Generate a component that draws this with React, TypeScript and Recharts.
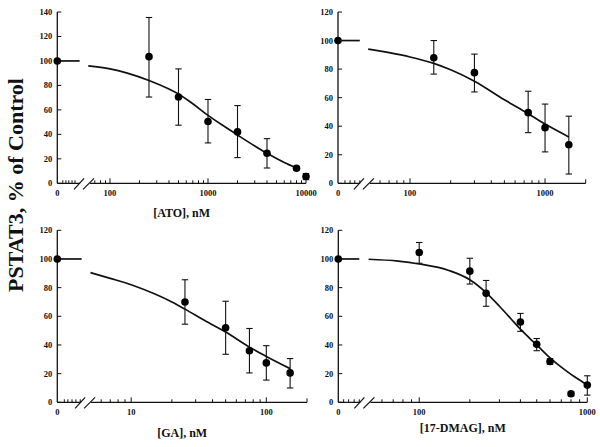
import React from "react";
import { ComposedChart, Line, Scatter, ErrorBar, XAxis, YAxis, ReferenceDot } from "recharts";

// ---- [ATO] panel (top left)
const atoConc = [0, 250, 500, 1000, 2000, 4000, 8000, 10000];
const atoMean = [100, 103.5, 70.5, 50.5, 42, 24.5, 12.3, 5.5];
const atoHigh = [100, 135.5, 93.5, 68.5, 63.5, 36.5, 13.8, 8];
const atoLow = [100, 70.5, 47.5, 33, 21, 12.5, 10.8, 3];
const atoFitConc = [60, 100, 150, 250, 400, 500, 700, 1000, 1500, 2000, 3000, 4000, 6000, 8000];
const atoFitPct = [96, 93.5, 90, 84, 77, 73, 65, 55.5, 46, 39.5, 30.5, 24.5, 17, 12.5];
const atoMajor = [100, 1000, 10000];
const atoMinor = [33, 35.5, 38, 41, 44, 70, 80, 90, 200, 300, 400, 500, 600, 700, 800, 900, 2000, 3000, 4000, 5000, 6000, 7000, 8000, 9000];

// ---- top right panel (no axis title)
const p2Conc = [0, 150, 300, 750, 1000, 1500];
const p2Mean = [100, 88, 77.5, 49.5, 39, 27];
const p2High = [100, 100, 90.5, 64.5, 55.5, 47];
const p2Low = [100, 76.5, 64, 35.5, 22, 6.5];
const p2FitConc = [49, 70, 100, 150, 200, 300, 500, 700, 1000, 1500];
const p2FitPct = [94, 91.5, 88.5, 84, 79.5, 71.5, 58.5, 50.5, 41.5, 32.5];
const p2Major = [100, 1000];
const p2Minor = [33, 36, 39, 42.5, 60, 70, 80, 90, 200, 300, 400, 500, 600, 700, 800, 900, 2000];

// ---- [GA] panel (bottom left)
const gaConc = [0, 25, 50, 75, 100, 150];
const gaMean = [100, 70, 52, 36, 27.5, 20.5];
const gaHigh = [100, 85.5, 70.5, 51.5, 39.5, 30.5];
const gaLow = [100, 54.5, 33.5, 20.5, 15.5, 10];
const gaFitConc = [5, 7, 10, 15, 20, 25, 35, 50, 75, 100, 150];
const gaFitPct = [90.5, 86.5, 82, 75.5, 70, 65, 57, 49, 38.5, 32, 23.5];
const gaMajor = [10, 100];
const gaMinor = [3.2, 3.4, 3.65, 3.9, 4.2, 6, 7, 8, 9, 20, 30, 40, 50, 60, 70, 80, 90, 200];

// ---- [17-DMAG] panel (bottom right)
const dmagConc = [0, 100, 200, 250, 400, 500, 600, 800, 1000];
const dmagMean = [100, 104.5, 91.5, 76, 56, 40.5, 28.5, 6, 12];
const dmagHigh = [100, 111.5, 100.5, 85, 62, 44.5, 30.5, 7.5, 18.5];
const dmagLow = [100, 97, 82.5, 67, 49.5, 36, 26.5, 4.5, 5];
const dmagFitConc = [50, 75, 100, 150, 200, 250, 300, 350, 400, 500, 600, 700, 800, 900, 1000];
const dmagFitPct = [99.8, 98.5, 96.5, 92, 85.5, 76.5, 67, 58.5, 51, 40, 31, 24.5, 19.5, 15.5, 12];
const dmagMajor = [100, 1000];
const dmagMinor = [35.5, 38, 41, 44, 60, 70, 80, 90, 200, 300, 400, 500, 600, 700, 800, 900];

const yTicks140 = [0, 20, 40, 60, 80, 100, 120, 140];
const yTicks120 = [0, 20, 40, 60, 80, 100, 120];

const FONT = '"Liberation Serif", "Times New Roman", serif';
const INK = "#111";

type PanelProps = {
  left: number;
  top: number;
  width: number;
  height: number;
  plot: [number, number, number, number]; // left, right, top, bottom (page px)
  conc: number[];
  mean: number[];
  high: number[];
  low: number[];
  fitConc: number[];
  fitPct: number[];
  zeroAt: number; // where dose 0 sits on the broken log axis
  ctrlEnd: number;
  breakAt: number;
  xMax: number;
  major: number[];
  minor: number[];
  yTicks: number[];
  xLabel?: string;
  xLabelOffset?: number;
};

function BreakMark({ cx, cy }: { cx: number; cy: number }) {
  return (
    <g>
      <rect x={cx - 4.5} y={cy - 2} width={10} height={4} fill="#fff" />
      <line x1={cx - 10.5} y1={cy + 6} x2={cx - 0.5} y2={cy - 5} stroke={INK} strokeWidth={1.2} />
      <line x1={cx - 1.5} y1={cy + 6} x2={cx + 9.5} y2={cy - 5} stroke={INK} strokeWidth={1.2} />
    </g>
  );
}

function Panel(p: PanelProps) {
  const [pl, pr, pt, pb] = p.plot;
  const pos = (c: number) => (c === 0 ? p.zeroAt : c);
  const points = p.conc.map((c, i) => ({
    x: pos(c),
    y: p.mean[i],
    err: [p.mean[i] - p.low[i], p.high[i] - p.mean[i]],
  }));
  const fit = p.fitConc.map((c, i) => ({ x: c, y: p.fitPct[i] }));
  const ctrl = [
    { x: p.zeroAt, y: 100 },
    { x: p.ctrlEnd, y: 100 },
  ];
  const xTicks = Array.from(new Set([p.zeroAt, ...p.minor, ...p.major, p.xMax])).sort((a, b) => a - b);
  const yMax = p.yTicks[p.yTicks.length - 1];

  const XTick = (props: any) => {
    const { x, y, payload } = props;
    const v = payload.value;
    const isZero = v === p.zeroAt;
    const isMajor = p.major.includes(v);
    const len = isZero ? 0 : isMajor ? 5 : v === p.xMax ? 4 : 3;
    const label = isZero ? "0" : isMajor ? String(v) : null;
    return (
      <g>
        {len > 0 && <line x1={x} x2={x} y1={y} y2={y - len} stroke={INK} strokeWidth={1} />}
        {label && (
          <text x={x} y={y + 12.5} textAnchor="middle" fontFamily={FONT} fontWeight="bold" fontSize={8.5} fill={INK}>
            {label}
          </text>
        )}
      </g>
    );
  };

  const YTick = (props: any) => {
    const { x, y, payload } = props;
    return (
      <g>
        <line x1={x} x2={x + 4} y1={y} y2={y} stroke={INK} strokeWidth={1} />
        <text x={x - 5} y={y + 3} textAnchor="end" fontFamily={FONT} fontWeight="bold" fontSize={8.5} fill={INK}>
          {payload.value}
        </text>
      </g>
    );
  };

  return (
    <div style={{ position: "absolute", left: p.left, top: p.top }}>
      <ComposedChart
        width={p.width}
        height={p.height}
        margin={{ top: pt - p.top, right: p.left + p.width - pr, bottom: 0, left: 0 }}
      >
        <XAxis
          dataKey="x"
          type="number"
          scale="log"
          domain={[p.zeroAt, p.xMax]}
          ticks={xTicks}
          interval={0}
          tick={XTick}
          tickLine={false}
          tickSize={0}
          tickMargin={0}
          height={p.top + p.height - pb}
          axisLine={{ stroke: INK, strokeWidth: 1.3 }}
          label={
            p.xLabel
              ? {
                  value: p.xLabel,
                  position: "insideBottom",
                  offset: p.xLabelOffset ?? 8,
                  fontFamily: FONT,
                  fontWeight: "bold",
                  fontSize: 12,
                  fill: INK,
                }
              : undefined
          }
        />
        <YAxis
          type="number"
          domain={[0, yMax]}
          ticks={p.yTicks}
          interval={0}
          tick={YTick}
          tickLine={false}
          tickSize={0}
          tickMargin={0}
          width={pl - p.left}
          axisLine={{ stroke: INK, strokeWidth: 1.3 }}
        />
        <ReferenceDot x={p.breakAt} y={0} r={0} shape={(d: any) => <BreakMark cx={d.cx} cy={d.cy} />} />
        <Line data={ctrl} dataKey="y" stroke={INK} strokeWidth={1.7} dot={false} isAnimationActive={false} />
        <Line data={fit} dataKey="y" type="monotone" stroke={INK} strokeWidth={1.7} dot={false} isAnimationActive={false} />
        <Scatter
          data={points}
          dataKey="y"
          isAnimationActive={false}
          shape={(d: any) => <circle cx={d.cx} cy={d.cy} r={3.8} fill="#000" />}
        >
          <ErrorBar dataKey="err" direction="y" width={3.2} stroke={INK} strokeWidth={1.1} isAnimationActive={false} />
        </Scatter>
      </ComposedChart>
    </div>
  );
}

export default function App() {
  return (
    <div style={{ position: "fixed", left: 0, top: 0, width: 600, height: 447, background: "#fff", overflow: "hidden" }}>
      <Panel
        left={0} top={0} width={330} height={225}
        plot={[57.3, 306, 12, 183.3]}
        conc={atoConc} mean={atoMean} high={atoHigh} low={atoLow}
        fitConc={atoFitConc} fitPct={atoFitPct}
        zeroAt={29} ctrlEnd={49} breakAt={55} xMax={10000}
        major={atoMajor} minor={atoMinor} yTicks={yTicks140}
        xLabel="[ATO], nM" xLabelOffset={8}
      />
      <Panel
        left={300} top={0} width={300} height={225}
        plot={[338, 585.7, 12, 183.3]}
        conc={p2Conc} mean={p2Mean} high={p2High} low={p2Low}
        fitConc={p2FitConc} fitPct={p2FitPct}
        zeroAt={29.3} ctrlEnd={42.5} breakAt={46} xMax={2000}
        major={p2Major} minor={p2Minor} yTicks={yTicks120}
      />
      <Panel
        left={0} top={225} width={330} height={222}
        plot={[57.3, 307, 230.3, 402.3]}
        conc={gaConc} mean={gaMean} high={gaHigh} low={gaLow}
        fitConc={gaFitConc} fitPct={gaFitPct}
        zeroAt={2.84} ctrlEnd={4.3} breakAt={4.6} xMax={200}
        major={gaMajor} minor={gaMinor} yTicks={yTicks120}
        xLabel="[GA], nM" xLabelOffset={10.5}
      />
      <Panel
        left={300} top={225} width={300} height={222}
        plot={[338.3, 587.3, 230.3, 402.3]}
        conc={dmagConc} mean={dmagMean} high={dmagHigh} low={dmagLow}
        fitConc={dmagFitConc} fitPct={dmagFitPct}
        zeroAt={33} ctrlEnd={44} breakAt={47.5} xMax={1000}
        major={dmagMajor} minor={dmagMinor} yTicks={yTicks120}
        xLabel="[17-DMAG], nM" xLabelOffset={15}
      />
      <svg width={40} height={447} style={{ position: "absolute", left: 0, top: 0 }}>
        <text
          transform="translate(23 185) rotate(-90)"
          textAnchor="middle"
          fontFamily={FONT}
          fontWeight="bold"
          fontSize={22}
          fill={INK}
        >
          PSTAT3, % of Control
        </text>
      </svg>
    </div>
  );
}
